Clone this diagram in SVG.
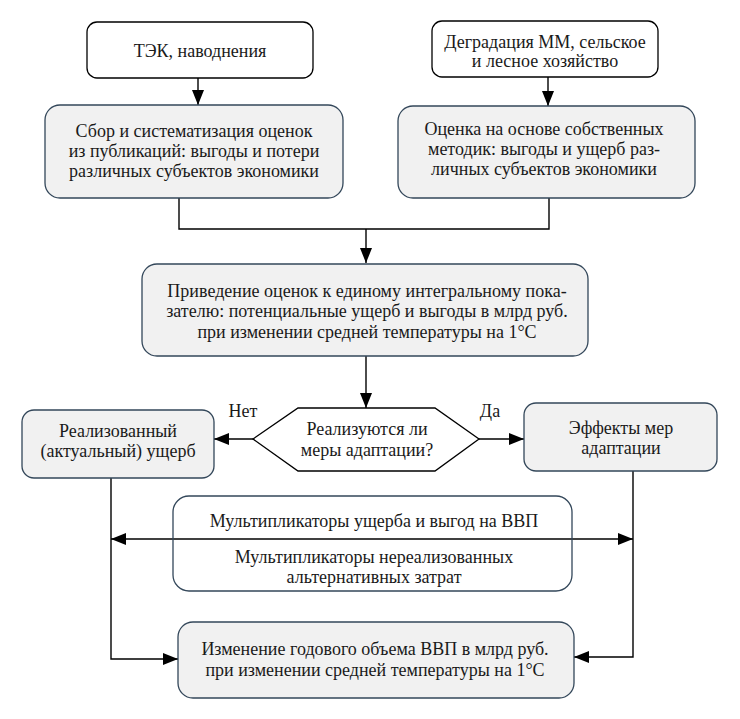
<svg xmlns="http://www.w3.org/2000/svg" width="740" height="719" viewBox="0 0 740 719">
<style>
text{font-family:'Liberation Serif','DejaVu Serif','Times New Roman',Times,serif;font-size:18px;fill:#1a1a1a;text-anchor:middle}
.w{fill:#ffffff;stroke:#000000;stroke-width:1.3}
.g{fill:#f1f1f1;stroke:#33475a;stroke-width:1.3}
.c{fill:none;stroke:#000000;stroke-width:1.4}
</style>
<defs>
<marker id="ah" viewBox="0 0 15 12" refX="15" refY="6" markerWidth="15" markerHeight="12" markerUnits="userSpaceOnUse" orient="auto-start-reverse">
<path d="M0,0 L15,6 L0,12 Z" fill="#000000"/>
</marker>
</defs>
<rect width="740" height="719" fill="#ffffff"/>
<g id="connectors">
<path class="c" d="M198,78 V105" marker-end="url(#ah)"/>
<path class="c" d="M548,77 V106" marker-end="url(#ah)"/>
<path class="c" d="M179,198 V229 H549 V198"/>
<path class="c" d="M366,229 V263" marker-end="url(#ah)"/>
<path class="c" d="M366,356 V408" marker-end="url(#ah)"/>
<path class="c" d="M253,439 H214" marker-end="url(#ah)"/>
<path class="c" d="M479,439 H524" marker-end="url(#ah)"/>
<path class="c" d="M111,539 H633" marker-start="url(#ah)" marker-end="url(#ah)"/>
<path class="c" d="M111,478 V659 H178" marker-end="url(#ah)"/>
<path class="c" d="M633,471 V657 H574" marker-end="url(#ah)"/>
</g>
<g id="n1">
<rect class="w" x="87" y="22" width="226" height="56" rx="10"/>
<text x="200" y="57">ТЭК, наводнения</text>
</g>
<g id="n2">
<rect class="w" x="432" y="21" width="226" height="56" rx="10"/>
<text x="545" y="48">Деградация ММ, сельское</text>
<text x="545" y="67">и лесное хозяйство</text>
</g>
<g id="n3">
<rect class="g" x="45" y="105" width="298" height="93" rx="15"/>
<text x="194" y="137">Сбор и систематизация оценок</text>
<text x="194" y="157">из публикаций: выгоды и потери</text>
<text x="194" y="177">различных субъектов экономики</text>
</g>
<g id="n4">
<rect class="g" x="398" y="106" width="297" height="92" rx="15"/>
<text x="544" y="135">Оценка на основе собственных</text>
<text x="544" y="155">методик: выгоды и ущерб раз-</text>
<text x="544" y="175">личных субъектов экономики</text>
</g>
<g id="n5">
<rect class="g" x="142" y="264" width="446" height="92" rx="15"/>
<text x="367" y="297">Приведение оценок к единому интегральному пока-</text>
<text x="367" y="317">зателю: потенциальные ущерб и выгоды в млрд руб.</text>
<text x="367" y="338">при изменении средней температуры на 1°C</text>
</g>
<g id="n6">
<polygon points="253,439 298,408 435,408 479,439 435,471 298,471" fill="#ffffff" stroke="#000000" stroke-width="1.3"/>
<text x="367" y="435">Реализуются ли</text>
<text x="367" y="456">меры адаптации?</text>
</g>
<g id="n7">
<rect class="g" x="22" y="410" width="192" height="68" rx="12"/>
<text x="118" y="437">Реализованный</text>
<text x="118" y="457">(актуальный) ущерб</text>
</g>
<g id="n8">
<rect class="g" x="524" y="403" width="193" height="68" rx="12"/>
<text x="621" y="434">Эффекты мер</text>
<text x="621" y="454">адаптации</text>
</g>
<g id="n9">
<rect x="173" y="496" width="399" height="95" rx="16" fill="none" stroke="#33475a" stroke-width="1.3"/>
<text x="374" y="527">Мультипликаторы ущерба и выгод на ВВП</text>
<text x="374" y="563">Мультипликаторы нереализованных</text>
<text x="374" y="583">альтернативных затрат</text>
</g>
<g id="n10">
<rect class="g" x="178" y="622" width="396" height="76" rx="15"/>
<text x="375" y="655">Изменение годового объема ВВП в млрд руб.</text>
<text x="375" y="676">при изменении средней температуры на 1°C</text>
</g>
<text x="243" y="417">Нет</text>
<text x="490" y="417">Да</text>
</svg>
